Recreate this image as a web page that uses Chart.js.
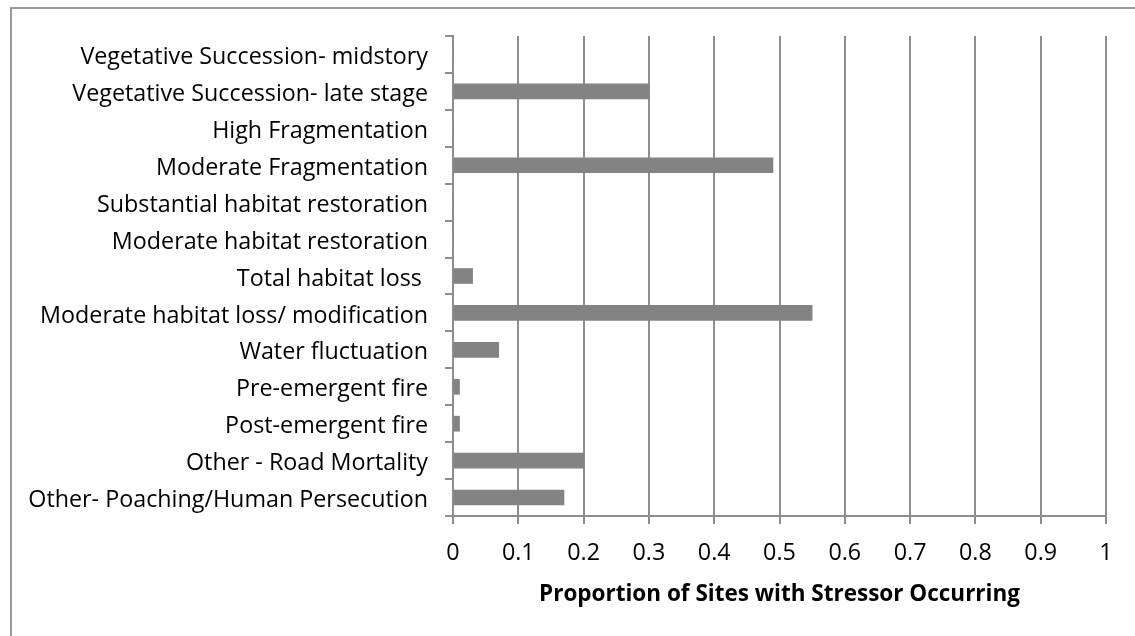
<!DOCTYPE html>
<html>
<head>
<meta charset="utf-8">
<script src="https://cdn.jsdelivr.net/npm/chart.js@4"></script>
<style>
  html, body { margin: 0; padding: 0; background: #fff; }
  #wrap { width: 1135px; height: 636px; position: relative; }
</style>
</head>
<body>
<div id="wrap"><canvas id="stressorChart"></canvas></div>
<script>
// categories, top to bottom
const stressors = [
    'Vegetative Succession- midstory',
    'Vegetative Succession- late stage',
    'High Fragmentation',
    'Moderate Fragmentation',
    'Substantial habitat restoration',
    'Moderate habitat restoration',
    'Total habitat loss ',
    'Moderate habitat loss/ modification',
    'Water fluctuation',
    'Pre-emergent fire',
    'Post-emergent fire',
    'Other - Road Mortality',
    'Other- Poaching/Human Persecution'
];
const proportions = [0, 0.30, 0, 0.49, 0, 0, 0.03, 0.55, 0.07, 0.01, 0.01, 0.20, 0.17];
const xTickLabels = ['0', '0.1', '0.2', '0.3', '0.4', '0.5', '0.6', '0.7', '0.8', '0.9', '1'];
const xTitle = 'Proportion of Sites with Stressor Occurring';

const gridGray = '#8e8e8e';
const labelFont = { family: 'Open Sans', size: 23.3 };

// white page + the frame lines at top and left
const framePlugin = {
    id: 'frame',
    beforeDraw(chart) {
        const c = chart.ctx;
        c.save();
        c.fillStyle = '#fff';
        c.fillRect(0, 0, chart.width, chart.height);
        c.strokeStyle = '#9a9a9a';
        c.lineWidth = 2;
        c.beginPath();
        c.moveTo(10, 8);
        c.lineTo(chart.width, 8);
        c.moveTo(11, 7);
        c.lineTo(11, chart.height);
        c.stroke();
        c.restore();
    }
};

document.addEventListener('DOMContentLoaded', function () {
    const ctx = document.getElementById('stressorChart');
    new Chart(ctx.getContext('2d'), {
        type: 'bar',
        data: {
            labels: stressors,
            datasets: [{
                data: proportions,
                backgroundColor: '#838383',
                borderWidth: 0,
                barThickness: 15
            }]
        },
        options: {
            indexAxis: 'y',
            responsive: true,
            maintainAspectRatio: false,
            animation: false,
            layout: { padding: { top: 36, right: 29, left: 0, bottom: 0 } },
            plugins: {
                legend: { display: false },
                tooltip: { enabled: false }
            },
            scales: {
                x: {
                    min: 0,
                    max: 1,
                    afterFit: function (scale) { scale.height = 120; },
                    ticks: {
                        stepSize: 0.1,
                        color: '#000',
                        font: labelFont,
                        padding: 15,
                        callback: function (v, i) { return xTickLabels[i]; }
                    },
                    grid: { color: gridGray, lineWidth: 2, tickLength: 8 },
                    border: { color: gridGray, width: 2 },
                    title: {
                        display: true,
                        text: xTitle,
                        color: '#000',
                        font: { family: 'Open Sans', size: 22.5, weight: 'bold' },
                        padding: { top: 0, bottom: 28 }
                    }
                },
                y: {
                    afterFit: function (scale) { scale.width = 453; },
                    ticks: { color: '#000', font: labelFont, padding: 17, labelOffset: 3 },
                    grid: {
                        offset: true,
                        drawOnChartArea: false,
                        color: gridGray,
                        lineWidth: 2,
                        tickLength: 8
                    },
                    border: { color: gridGray, width: 2 }
                }
            }
        },
        plugins: [framePlugin]
    });
});
</script>
</body>
</html>
